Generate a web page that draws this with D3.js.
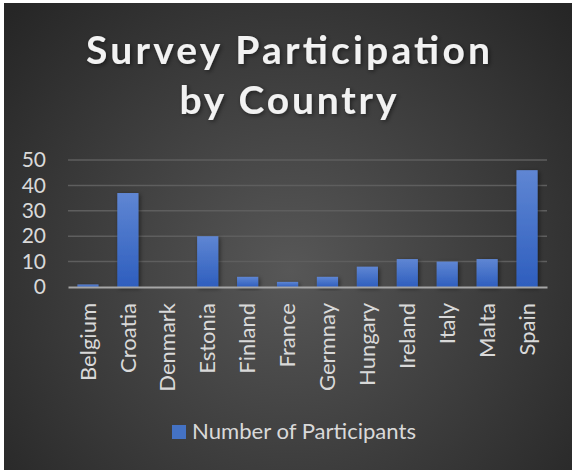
<!DOCTYPE html>
<html>
<head>
<meta charset="utf-8">
<script src="https://cdn.jsdelivr.net/npm/d3@7"></script>
<style>
  html, body { margin: 0; padding: 0; background: #fff; }
  svg { display: block; }
</style>
</head>
<body>
<svg id="chart" width="572" height="470"></svg>
<script>
// Data
const countries = ["Belgium", "Croatia", "Denmark", "Estonia", "Finland", "France",
  "Germnay", "Hungary", "Ireland", "Italy", "Malta", "Spain"];
const participants = [1, 37, 0, 20, 4, 2, 4, 8, 11, 10, 11, 46];
const yTicks = [0, 10, 20, 30, 40, 50];
const titleLines = ["Survey Participation", "by Country"];
const seriesName = "Number of Participants";

const svg = d3.select("#chart");
const width = 572;
const height = 470;
const margin = { top: 160, right: 25, bottom: 183, left: 68 };

const defs = svg.append("defs");

// background gradient, lighter in the middle
const bg = defs.append("radialGradient")
  .attr("id", "bg")
  .attr("gradientUnits", "userSpaceOnUse")
  .attr("cx", 290).attr("cy", 270).attr("r", 380);
bg.append("stop").attr("offset", "0%").attr("stop-color", "#575757");
bg.append("stop").attr("offset", "100%").attr("stop-color", "#262626");

// bar fill: lighter at the top
const barGrad = defs.append("linearGradient")
  .attr("id", "barGrad")
  .attr("x1", 0).attr("y1", 0).attr("x2", 0).attr("y2", 1);
barGrad.append("stop").attr("offset", "0%").attr("stop-color", "#5f86d3");
barGrad.append("stop").attr("offset", "100%").attr("stop-color", "#2e5ebe");

const shadow = defs.append("filter").attr("id", "shadow")
  .attr("x", "-30%").attr("y", "-30%").attr("width", "160%").attr("height", "160%");
shadow.append("feDropShadow")
  .attr("dx", 1.5).attr("dy", 1.5).attr("stdDeviation", 2)
  .attr("flood-color", "#000").attr("flood-opacity", 0.5);

svg.append("rect")
  .attr("x", 4).attr("y", 3)
  .attr("width", width - 4).attr("height", height - 3)
  .attr("fill", "url(#bg)");

// Title (widths, letters spread out)
const titleWidths = [404, 217];
svg.append("g")
  .selectAll("text")
  .data(titleLines)
  .enter()
  .append("text")
  .attr("x", 288)
  .attr("y", (d, i) => 64 + i * 50)
  .attr("text-anchor", "middle")
  .attr("textLength", (d, i) => titleWidths[i])
  .attr("lengthAdjust", "spacing")
  .attr("fill", "#f2f2f2")
  .attr("filter", "url(#shadow)")
  .style("font-family", "Lato, 'Open Sans', sans-serif")
  .style("font-weight", "bold")
  .style("font-size", "39px")
  .text((d) => d);

// Scales
const x = d3.scaleBand()
  .domain(countries)
  .range([margin.left, width - margin.right])
  .paddingInner(0.47)
  .paddingOuter(0.235);

const y = d3.scaleLinear()
  .domain([0, 50])
  .range([height - margin.bottom, margin.top]);

// Gridlines
svg.append("g")
  .selectAll("line")
  .data(yTicks.filter((t) => t > 0))
  .enter()
  .append("line")
  .attr("x1", margin.left)
  .attr("x2", width - margin.right)
  .attr("y1", (d) => y(d))
  .attr("y2", (d) => y(d))
  .attr("stroke", "#5e5e5e")
  .attr("stroke-width", 1.5);

// Y axis labels
const yAxis = svg.append("g")
  .attr("transform", `translate(${margin.left - 6},0)`)
  .call(d3.axisLeft(y).tickValues(yTicks).tickSize(0).tickPadding(16));
yAxis.select(".domain").remove();
yAxis.selectAll("text")
  .attr("fill", "#d9d9d9")
  .style("font-family", "Lato, 'Open Sans', sans-serif")
  .style("font-size", "21px");

// Bars
svg.append("g")
  .selectAll("rect")
  .data(participants)
  .enter()
  .append("rect")
  .attr("x", (d, i) => x(countries[i]))
  .attr("y", (d) => y(d))
  .attr("width", x.bandwidth())
  .attr("height", (d) => y(0) - y(d))
  .attr("fill", "url(#barGrad)")
  .attr("filter", "url(#shadow)");

// X axis
const xAxis = svg.append("g")
  .attr("transform", `translate(0,${y(0)})`)
  .call(d3.axisBottom(x).tickSize(0).tickPadding(0));
xAxis.select(".domain")
  .attr("stroke", "#a6a6a6")
  .attr("stroke-width", 2);
xAxis.selectAll("text")
  .attr("transform", "rotate(-90)")
  .attr("x", -16)
  .attr("y", 0)
  .attr("dy", "0.35em")
  .attr("text-anchor", "end")
  .attr("fill", "#d9d9d9")
  .style("font-family", "Lato, 'Open Sans', sans-serif")
  .style("font-size", "22px");

// Legend
const legend = svg.append("g").attr("transform", "translate(172,425)");
legend.append("rect")
  .attr("width", 14).attr("height", 14)
  .attr("fill", "#4472c4");
legend.append("text")
  .attr("x", 20).attr("y", 14)
  .attr("textLength", 224)
  .attr("lengthAdjust", "spacingAndGlyphs")
  .attr("fill", "#d9d9d9")
  .style("font-family", "Lato, 'Open Sans', sans-serif")
  .style("font-size", "21px")
  .text(seriesName);
</script>
</body>
</html>
